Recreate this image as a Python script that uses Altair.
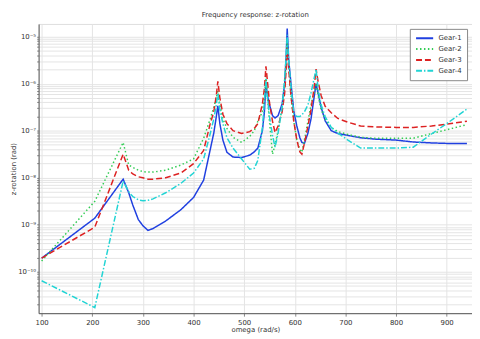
import altair as alt
import pandas as pd

omega = [100, 205, 261, 272, 280, 291, 300, 310, 320, 345, 375, 400, 420, 433, 440, 445, 448,
         452, 458, 466, 478, 495, 511, 520, 527, 536, 540, 543, 546, 550, 556, 561, 567,
         575, 580, 583, 585, 588, 592, 598, 604, 610, 614, 619, 626, 632, 638, 642, 646,
         652, 660, 672, 685, 705, 730, 760, 800, 834, 870, 900, 940]

# log10 of z-rotation (rad)
gear1 = [-9.71, -8.86, -8.03, -8.32, -8.58, -8.89, -9.02, -9.12, -9.08, -8.92, -8.68, -8.42,
         -8.05, -7.4, -7.05, -6.7, -6.47, -6.85, -7.2, -7.46, -7.56, -7.57, -7.52, -7.45,
         -7.37, -7.0, -6.6, -6.0, -6.25, -6.45, -6.68, -6.73, -6.68, -6.43, -6.0, -5.4,
         -4.83, -5.5, -5.95, -6.58, -6.9, -7.15, -7.25, -7.27, -7.05, -6.75, -6.3, -6.0,
         -6.2, -6.5, -6.79, -7.0, -7.06, -7.1, -7.15, -7.18, -7.2, -7.24, -7.26, -7.27, -7.27]
gear2 = [-9.77, -8.5, -7.25, -7.73, -7.78, -7.84, -7.87, -7.88, -7.88, -7.84, -7.73, -7.6,
         -7.16, -6.75, -6.5, -6.3, -6.16, -6.45, -6.75, -6.95, -7.14, -7.25, -7.12, -7.0,
         -6.8, -6.6, -6.3, -5.84, -6.3, -6.8, -7.5, -7.3, -7.0, -6.5, -6.0, -5.5,
         -5.04, -5.6, -6.2, -6.8, -7.2, -7.4, -7.46, -7.2, -6.8, -6.45, -6.2, -5.99,
         -6.25, -6.55, -6.75, -6.93, -7.02, -7.08, -7.14, -7.16, -7.16, -7.16, -7.06, -6.98, -6.87]
gear3 = [-9.71, -9.05, -7.5, -7.84, -7.92, -7.98, -8.0, -8.03, -8.03, -8.0, -7.9, -7.7,
         -7.42, -6.85, -6.6, -6.25, -5.95, -6.3, -6.65, -6.85, -7.0, -7.06, -7.02, -6.95,
         -6.85, -6.43, -6.1, -5.63, -5.95, -6.4, -6.8, -7.04, -6.9, -6.6, -6.2, -5.7,
         -5.25, -5.7, -6.2, -6.8, -7.2, -7.45, -7.5, -7.27, -6.9, -6.55, -6.1, -5.69,
         -5.95, -6.25, -6.48, -6.62, -6.74, -6.82, -6.9, -6.92, -6.93, -6.93, -6.9, -6.86, -6.8]
gear4 = [-10.19, -10.76, -8.07, -8.3, -8.4, -8.47, -8.49, -8.48, -8.45, -8.32, -8.12, -7.9,
         -7.6, -7.06, -6.75, -6.45, -6.2, -6.55, -6.85, -7.15, -7.37, -7.6, -7.82, -7.8,
         -7.63, -6.93, -6.4, -5.9, -6.3, -6.7, -7.1, -7.35, -7.05, -6.5, -5.9, -5.4,
         -4.96, -5.5, -6.0, -6.64, -6.7, -6.7, -6.66, -6.6, -6.45, -6.2, -5.9, -5.69,
         -6.1, -6.45, -6.7, -6.93, -7.05, -7.2, -7.37, -7.37, -7.37, -7.35, -7.07, -6.85, -6.54]

series = ["Gear-1", "Gear-2", "Gear-3", "Gear-4"]
colors = ["#2040e0", "#33cc55", "#dd2222", "#22d4d4"]
dashes = [[1, 0], [1.5, 2.5], [6, 3], [6, 2, 1.5, 2]]

rows = []
for name, vals in zip(series, [gear1, gear2, gear3, gear4]):
    for i, (w, v) in enumerate(zip(omega, vals)):
        rows.append({"omega": w, "z": 10 ** v, "gear": name, "order": i})
df = pd.DataFrame(rows)

minor = []
for e in range(-11, -4):
    for m in range(1, 10):
        val = m * 10.0 ** e
        if 10 ** -10.88 <= val <= 10 ** -4.73:
            minor.append(val)

label_expr = ("round(log(datum.value)/LN10*1000)%1000==0 ? "
              "'10' + (round(log(datum.value)/LN10)==-10 ? '⁻¹⁰' : "
              "round(log(datum.value)/LN10)==-9 ? '⁻⁹' : "
              "round(log(datum.value)/LN10)==-8 ? '⁻⁸' : "
              "round(log(datum.value)/LN10)==-7 ? '⁻⁷' : "
              "round(log(datum.value)/LN10)==-6 ? '⁻⁶' : '⁻⁵') : ''")

chart = alt.Chart(df).mark_line(strokeWidth=1.5, clip=True).encode(
    x=alt.X("omega:Q", title="omega (rad/s)",
            scale=alt.Scale(domain=[94, 950], nice=False, zero=False),
            axis=alt.Axis(values=[100, 200, 300, 400, 500, 600, 700, 800, 900],
                          labelFontSize=7, titleFontSize=7, titlePadding=1,
                          labelPadding=2, tickSize=3, gridColor="#e4e4e4",
                          labelColor="#333", titleColor="#333", domainColor="#555",
                          titleFontWeight="normal")),
    y=alt.Y("z:Q", title="z-rotation (rad)",
            scale=alt.Scale(type="log", domain=[10 ** -10.88, 10 ** -4.73], nice=False),
            axis=alt.Axis(values=minor, labelExpr=label_expr, labelFontSize=7,
                          titleFontSize=7, titlePadding=1, labelPadding=1, tickSize=2,
                          gridColor="#e4e4e4", labelColor="#333", titleColor="#333",
                          domainColor="#555", titleFontWeight="normal",
                          labelOverlap=False)),
    color=alt.Color("gear:N", scale=alt.Scale(domain=series, range=colors),
                    legend=alt.Legend(title=None, orient="top-right", offset=5,
                                      symbolType="stroke", symbolSize=300,
                                      symbolStrokeWidth=2, labelFontSize=7,
                                      labelColor="#333", fillColor="white",
                                      strokeColor="#888", padding=5, rowPadding=2,
                                      clipHeight=9, labelOffset=4)),
    strokeDash=alt.StrokeDash("gear:N", scale=alt.Scale(domain=series, range=dashes),
                              legend=None),
    order="order:Q",
).properties(
    width=439, height=293,
    title=alt.TitleParams("Frequency response: z-rotation", fontSize=7,
                          fontWeight="normal", color="#333", offset=6),
    autosize=alt.AutoSizeParams(type="none"),
    padding={"left": 31, "top": 14, "right": 0, "bottom": 24},
).configure_view(stroke="#555").configure(font="DejaVu Sans")

chart.save("out.html", embed_options={"renderer": "svg", "actions": False})
